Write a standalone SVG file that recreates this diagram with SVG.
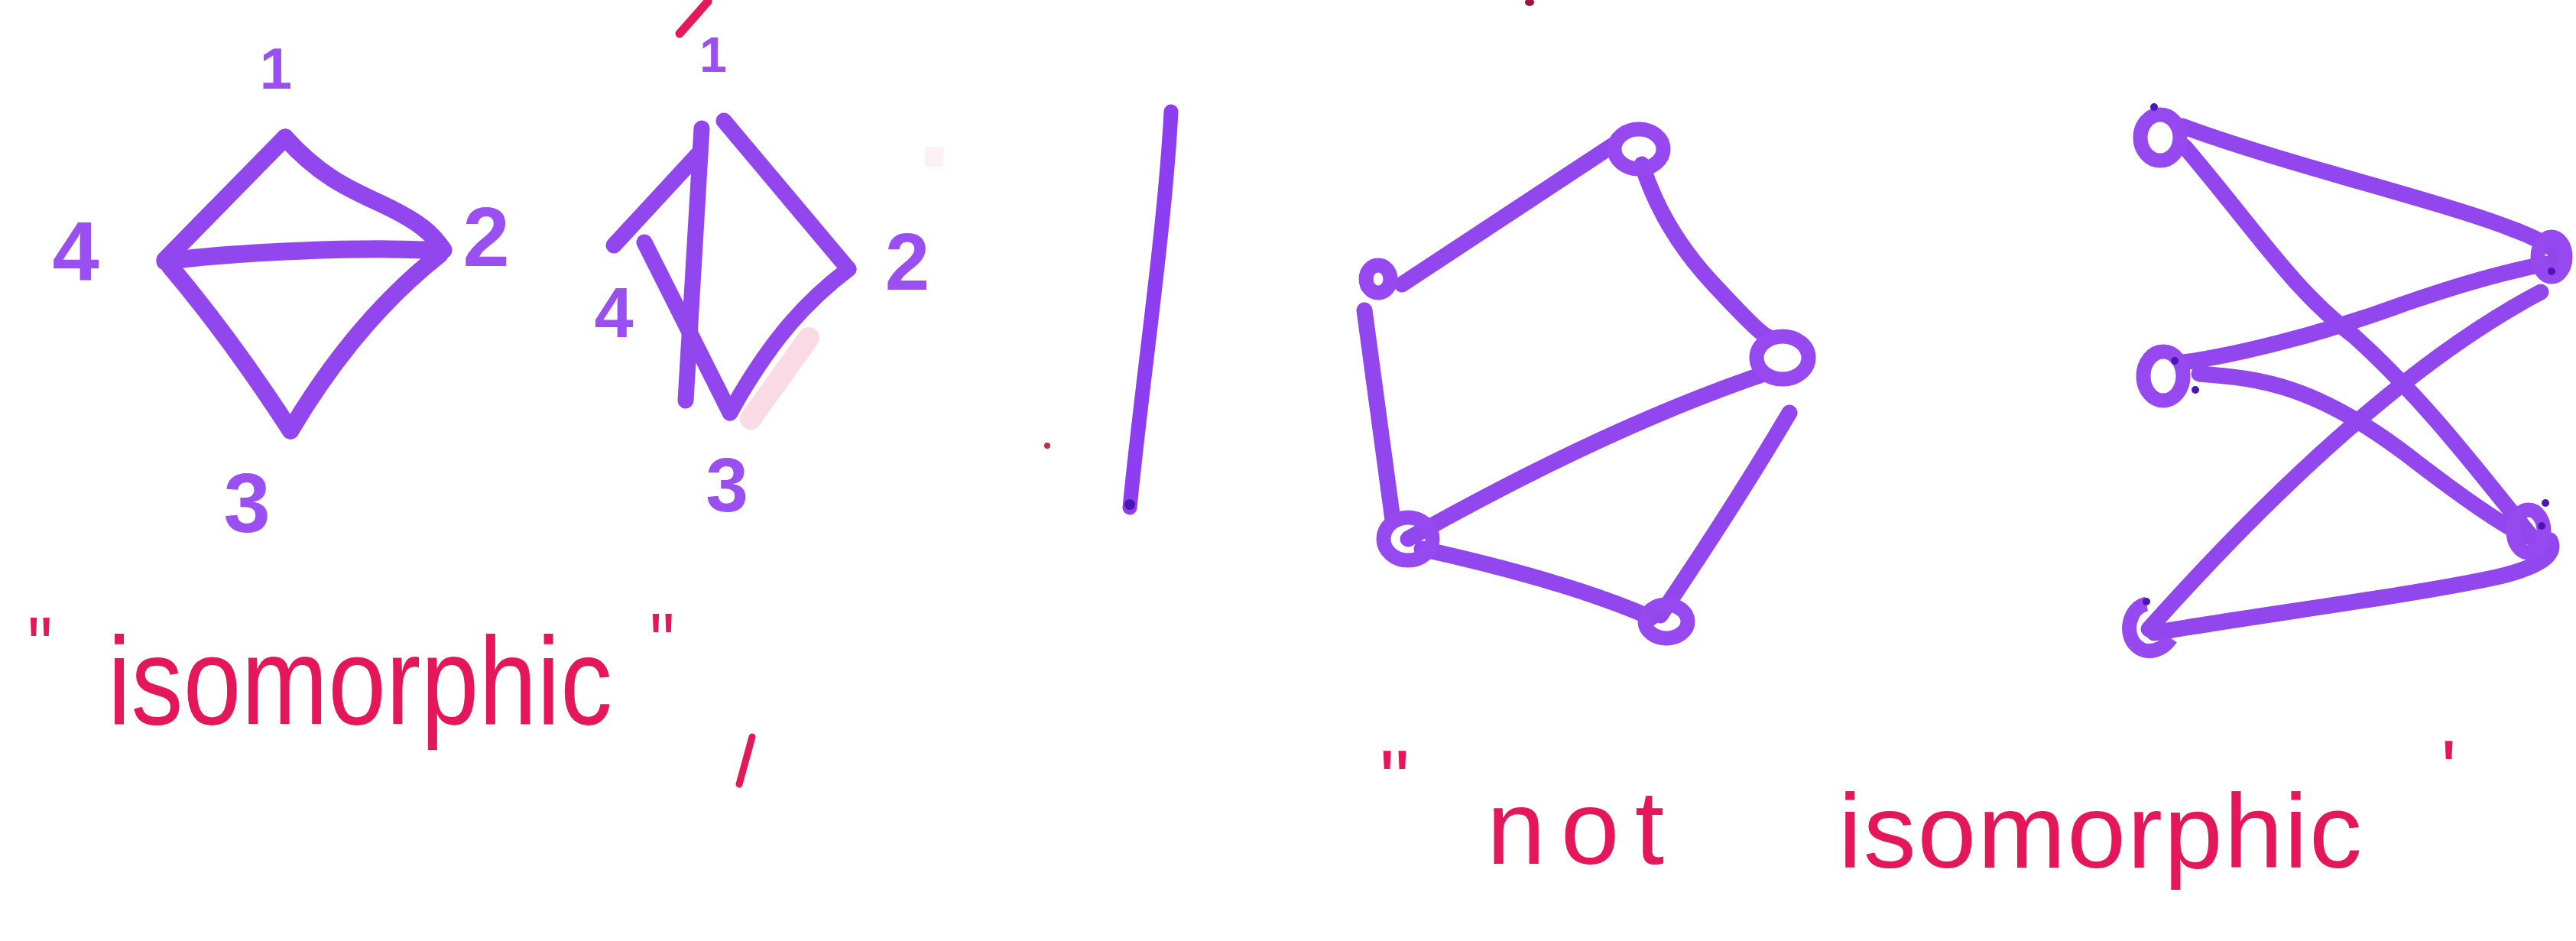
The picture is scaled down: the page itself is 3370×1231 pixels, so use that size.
<svg xmlns="http://www.w3.org/2000/svg" width="3370" height="1231" viewBox="0 0 3370 1231">
<style>
.edge{fill:none;stroke:#9146ee;stroke-width:21;stroke-linecap:round;stroke-linejoin:round}
.thick{stroke-width:23}
.ring{fill:none;stroke:#9549ef;stroke-width:19}
.num{font-family:"Liberation Sans",Arial,sans-serif;font-weight:bold;fill:#9a50f0;text-anchor:middle}
.cap{font-family:"Liberation Sans",Arial,sans-serif;fill:#e3175a}
.dot{fill:#4c16b4}
.mark{fill:none;stroke:#e3195a;stroke-linecap:round}
</style>
<rect width="3370" height="1231" fill="#ffffff"/>

<!-- stray marks -->
<g id="marks">
<path class="mark" d="M889,44 L926,2" stroke-width="11"/>
<circle cx="1370" cy="583" r="4" fill="#b8304a"/>
<ellipse cx="2001" cy="3" rx="6" ry="5" fill="#a01040"/>
<path class="mark" d="M984,964 L967,1026" stroke-width="9" stroke="#f18aac"/>
<path d="M1058,442 L982,548" fill="none" stroke="#f8cad8" stroke-width="28" stroke-linecap="round" opacity="0.7"/>
<rect x="1210" y="192" width="24" height="26" fill="#fcecf1" opacity="0.8"/>
</g>

<!-- divider -->
<g id="divider">
<path d="M1532,146 C1524,300 1494,500 1478,664" fill="none" stroke="#8c3ef0" stroke-width="19" stroke-linecap="round"/>
<circle cx="1478" cy="660" r="7" class="dot"/>
</g>

<!-- connectors -->
<g id="connectors">
<!-- graph A -->
<path class="edge thick" d="M373,180 L216,340"/>
<path class="edge thick" d="M373,180 C425,238 470,252 510,272 S565,305 580,327"/>
<path class="edge thick" d="M216,342 C300,330 480,322 578,328"/>
<path class="edge thick" d="M222,348 Q300,440 380,563"/>
<path class="edge thick" d="M575,333 Q465,420 380,563"/>
<!-- graph B -->
<path class="edge" d="M918,168 L897,524"/>
<path class="edge" d="M913,202 L803,321"/>
<path class="edge" d="M947,158 L1110,352"/>
<path class="edge" d="M1110,352 C1060,390 1010,440 955,540"/>
<path class="edge" d="M843,317 L955,540"/>
<!-- graph C -->
<path class="edge" d="M1834,372 L2110,190"/>
<path class="edge" d="M2148,215 Q2175,300 2240,370 T2312,440"/>
<path class="edge" d="M1785,406 L1822,680"/>
<path class="edge" d="M1842,705 Q2100,560 2305,490"/>
<path class="edge" d="M1860,718 Q2050,760 2160,808"/>
<path class="edge" d="M2341,540 Q2270,660 2172,805"/>
<!-- graph D -->
<path class="edge" d="M2855,165 C2990,215 3200,265 3285,299 Q3330,315 3352,335"/>
<path class="edge" d="M2858,192 C2950,300 3000,380 3080,440 C3180,530 3260,640 3324,717"/>
<path class="edge" d="M2857,474 C2920,465 3030,440 3149,396 C3230,368 3300,350 3344,343"/>
<path class="edge" d="M2877,489 C2960,495 3030,505 3149,595 C3220,650 3270,685 3305,702"/>
<path class="edge" d="M2811,823 Q3100,500 3324,382"/>
<path class="edge" d="M2818,828 C2950,805 3150,780 3266,755 Q3350,735 3336,707"/>
</g>

<!-- graph A nodes -->
<g id="a-n1"><text class="num" x="361" y="116" font-size="76">1</text></g>
<g id="a-n2"><text class="num" x="636" y="348" font-size="110">2</text></g>
<g id="a-n3"><text class="num" x="323" y="696" font-size="110">3</text></g>
<g id="a-n4"><text class="num" x="99" y="366" font-size="110">4</text></g>

<!-- graph B nodes -->
<g id="b-n1"><text class="num" x="933" y="94" font-size="64">1</text></g>
<g id="b-n2"><text class="num" x="1187" y="379" font-size="105">2</text></g>
<g id="b-n3"><text class="num" x="951" y="669" font-size="100">3</text></g>
<g id="b-n4"><text class="num" x="803" y="441" font-size="92">4</text></g>

<!-- graph C nodes -->
<g id="c-na"><ellipse class="ring" cx="1803" cy="365" rx="16" ry="18" stroke-width="22"/></g>
<g id="c-nb"><ellipse class="ring" cx="2144" cy="195" rx="32" ry="26"/></g>
<g id="c-nc"><ellipse class="ring" cx="2332" cy="468" rx="34" ry="28"/></g>
<g id="c-nd"><ellipse class="ring" cx="1842" cy="705" rx="32" ry="28" stroke-width="21"/></g>
<g id="c-ne"><ellipse class="ring" cx="2180" cy="813" rx="28" ry="22"/></g>

<!-- graph D nodes -->
<g id="d-l1"><ellipse class="ring" cx="2826" cy="180" rx="26" ry="30"/><circle class="dot" cx="2818" cy="140" r="5"/></g>
<g id="d-l2"><ellipse class="ring" cx="2830" cy="492" rx="26" ry="32"/><circle class="dot" cx="2845" cy="472" r="5"/><circle class="dot" cx="2872" cy="510" r="5"/></g>
<g id="d-l3"><path class="ring" d="M2808,790 C2785,795 2778,830 2795,845 C2810,858 2830,850 2840,835"/><circle class="dot" cx="2808" cy="787" r="5"/></g>
<g id="d-r1"><ellipse class="ring" cx="3338" cy="336" rx="18" ry="26"/><circle class="dot" cx="3338" cy="355" r="5"/></g>
<g id="d-r2"><ellipse class="ring" cx="3308" cy="695" rx="20" ry="28"/><circle class="dot" cx="3330" cy="658" r="5"/><circle class="dot" cx="3325" cy="688" r="5"/></g>

<!-- captions -->
<g id="caption-left">
<text class="cap" transform="translate(0,947) scale(1,1.2)" font-size="136"><tspan x="36" y="-52" font-size="92">"</tspan><tspan x="141" y="0" textLength="660" lengthAdjust="spacing">isomorphic</tspan><tspan x="850" y="-56" font-size="92">"</tspan></text>
</g>
<g id="caption-right">
<text class="cap" font-size="138" fill="#e6306c"><tspan x="1805" y="1058" font-size="110">"</tspan><tspan x="1945" y="1130" textLength="232" lengthAdjust="spacing">not</tspan><tspan x="2405" y="1135" textLength="685" lengthAdjust="spacing">isomorphic</tspan><tspan x="3193" y="1045" font-size="110">'</tspan></text>
</g>
</svg>
